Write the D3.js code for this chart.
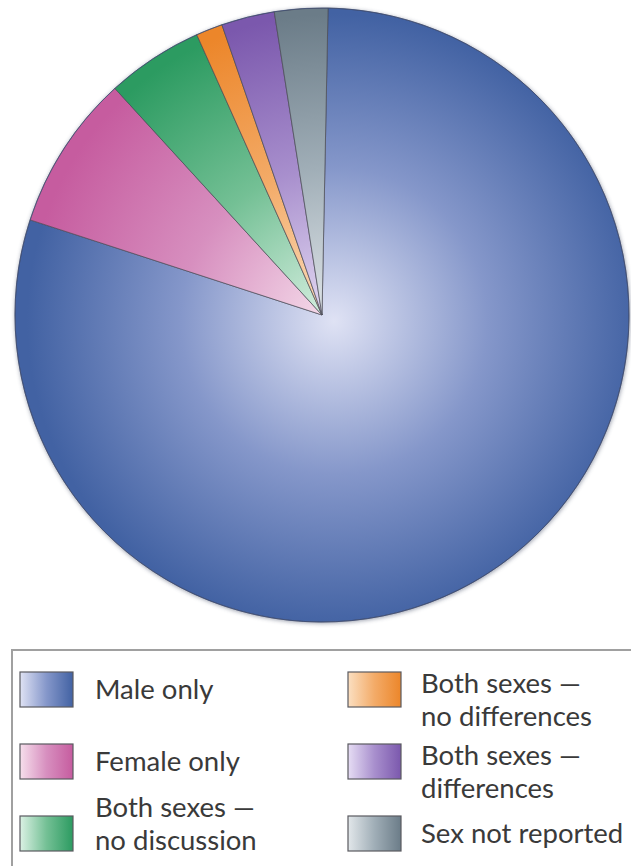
<!DOCTYPE html>
<html>
<head>
<meta charset="utf-8">
<script src="https://cdn.jsdelivr.net/npm/d3@7/dist/d3.min.js"></script>
<style>
  html, body { margin: 0; padding: 0; background: #ffffff; }
  svg { display: block; }
</style>
</head>
<body>
<svg id="chart" width="631" height="866"></svg>
<script>
// ---- data ----
const categories = [
  "Male only",
  "Female only",
  "Both sexes — no discussion",
  "Both sexes — no differences",
  "Both sexes — differences",
  "Sex not reported"
];
const values = [79.7, 8.2, 5.1, 1.4, 2.8, 2.8];
const legendLines = [
  ["Male only"],
  ["Female only"],
  ["Both sexes —", "no discussion"],
  ["Both sexes —", "no differences"],
  ["Both sexes —", "differences"],
  ["Sex not reported"]
];

// ---- palette ----
const edgeColors   = ["#4262a3", "#c65c9f", "#2c9b61", "#ec862a", "#7b58ad", "#6b7c88"];
const midColors    = ["#8597ca", "#d78fbf", "#74c095", "#f3ab68", "#a88fcd", "#a0aeb7"];
const centerColors = ["#dfe2f4", "#f6dfec", "#dbf1e4", "#fbdfc1", "#e6ddf4", "#e2e7ea"];

const svg = d3.select("#chart");
const defs = svg.append("defs");

const cx = 322, cy = 315, R = 307;
const startAngle = 1.13 * Math.PI / 180;

// gradients per category
categories.forEach((c, i) => {
  const g = defs.append("radialGradient")
    .attr("id", "rg" + i)
    .attr("gradientUnits", "userSpaceOnUse")
    .attr("cx", 12).attr("cy", 6).attr("r", R)
    .attr("fx", 12).attr("fy", 6);
  g.append("stop").attr("offset", "0").attr("stop-color", centerColors[i]);
  g.append("stop").attr("offset", "0.5").attr("stop-color", midColors[i]);
  g.append("stop").attr("offset", "1").attr("stop-color", edgeColors[i]);

  const lg = defs.append("linearGradient")
    .attr("id", "lg" + i)
    .attr("x1", "0").attr("x2", "1").attr("y1", "0").attr("y2", "0");
  lg.append("stop").attr("offset", "0").attr("stop-color", centerColors[i]);
  lg.append("stop").attr("offset", "0.5").attr("stop-color", midColors[i]);
  lg.append("stop").attr("offset", "1").attr("stop-color", edgeColors[i]);
});

const blur = defs.append("filter").attr("id", "shadow")
  .attr("x", "-10%").attr("y", "-10%").attr("width", "120%").attr("height", "120%");
blur.append("feGaussianBlur").attr("stdDeviation", 2.2);

// pie
const pie = d3.pie().sort(null).value(d => d)
  .startAngle(startAngle).endAngle(startAngle + 2 * Math.PI);
const arc = d3.arc().innerRadius(0).outerRadius(R);
const arcs = pie(values);

const pg = svg.append("g").attr("transform", `translate(${cx},${cy})`);

pg.append("circle").attr("r", R + 0.5).attr("cx", 0.5).attr("cy", 1)
  .attr("fill", "#3a4460").attr("opacity", 0.5).attr("filter", "url(#shadow)");

pg.selectAll("path.slice")
  .data(arcs)
  .enter().append("path")
  .attr("class", "slice")
  .attr("d", arc)
  .attr("fill", (d, i) => `url(#rg${i})`)
  .attr("stroke", "#4a4a55")
  .attr("stroke-opacity", 0.75)
  .attr("stroke-width", 0.9)
  .attr("stroke-linejoin", "round");

pg.append("circle").attr("r", R).attr("fill", "none")
  .attr("stroke", "#34487a").attr("stroke-width", 1).attr("stroke-opacity", 0.6);

// legend box
svg.append("rect")
  .attr("x", 12).attr("y", 650).attr("width", 640).attr("height", 240)
  .attr("fill", "#ffffff").attr("stroke", "#a0a0a0").attr("stroke-width", 2);

const cols = [
  { sx: 20, tx: 95 },
  { sx: 348, tx: 421 }
];
const rowY = [672, 744, 816];
const swW = 53, swH = 35;

const lg = svg.append("g").attr("class", "legend");
categories.forEach((c, i) => {
  const col = cols[Math.floor(i / 3)];
  const row = i % 3;
  const y = rowY[row];
  lg.append("rect")
    .attr("x", col.sx).attr("y", y).attr("width", swW).attr("height", swH)
    .attr("fill", `url(#lg${i})`)
    .attr("stroke", "#5a5a60").attr("stroke-width", 1.2);

  const lines = legendLines[i];
  let baselines;
  if (lines.length === 1) baselines = [y + swH / 2 + 9];
  else if (i < 3) baselines = [y + 1, y + 34];
  else baselines = [y + 21, y + 54];

  lines.forEach((ln, k) => {
    lg.append("text")
      .attr("x", col.tx).attr("y", baselines[k])
      .attr("font-family", "Lato, 'Open Sans', sans-serif")
      .attr("font-size", 27.5)
      .attr("fill", "#3a3a3a")
      .text(ln);
  });
});
</script>
</body>
</html>
